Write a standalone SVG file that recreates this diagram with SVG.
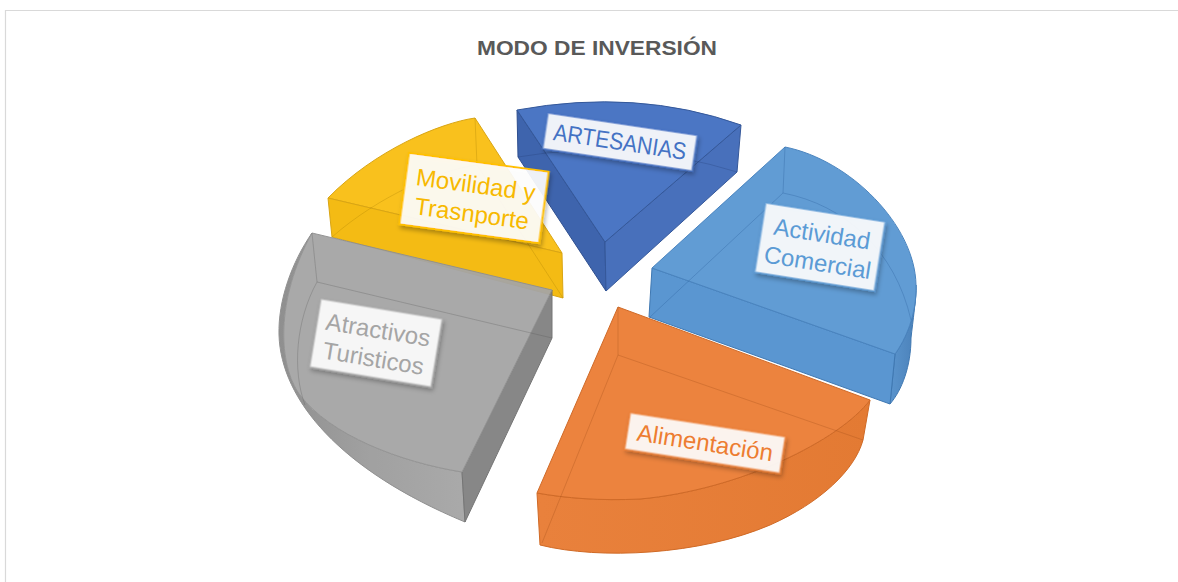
<svg xmlns="http://www.w3.org/2000/svg" width="1178" height="582" viewBox="0 0 1178 582">
<style>
.title{font-family:"Liberation Sans",Arial,sans-serif;font-weight:bold;font-size:20px;fill:#595959}
.lbl{font-family:"Liberation Sans",Arial,sans-serif;font-size:24px;text-anchor:middle}
.face{stroke-width:1;stroke-linejoin:round}
.hid{fill:none;stroke-width:0.8;stroke-opacity:0.35}
.box{fill:#ffffff;fill-opacity:0.9;stroke-width:2;filter:url(#sh)}
</style>
<defs>
<filter id="sh" x="-20%" y="-30%" width="150%" height="170%">
<feDropShadow dx="2" dy="3" stdDeviation="2" flood-color="#000" flood-opacity="0.3"/>
</filter>
<linearGradient id="gGrey" x1="280" y1="0" x2="470" y2="0" gradientUnits="userSpaceOnUse">
<stop offset="0" stop-color="#8a8a8a"/><stop offset="0.5" stop-color="#9d9d9d"/><stop offset="1" stop-color="#a6a6a6"/>
</linearGradient>
<linearGradient id="gBlue" x1="890" y1="0" x2="918" y2="0" gradientUnits="userSpaceOnUse">
<stop offset="0" stop-color="#5a94cd"/><stop offset="1" stop-color="#4a80b8"/>
</linearGradient>
<linearGradient id="gOr" x1="540" y1="0" x2="870" y2="0" gradientUnits="userSpaceOnUse">
<stop offset="0" stop-color="#e9813c"/><stop offset="1" stop-color="#e37a33"/>
</linearGradient>
</defs>
<rect x="0" y="0" width="1178" height="582" fill="#ffffff"/>
<path d="M5.5,582 L5.5,10.5 L1178,10.5" fill="none" stroke="#d9d9d9" stroke-width="1.2"/>
<text class="title" x="597" y="55" text-anchor="middle" textLength="240" lengthAdjust="spacingAndGlyphs">MODO DE INVERSIÓN</text>

<g id="slice-artesanias">
<path class="face" d="M517,110 L605,242 L606,291 L518,157 Z" fill="#3e64ad" stroke="#2f4f8f"/>
<path class="face" d="M741,125 L605,242 L606,291 L737,172 Z" fill="#4870bb" stroke="#35589a"/>
<path class="face" d="M517,110 Q637,88 741,125 L605,242 Z" fill="#4b76c4" stroke="#34589a"/>
<path class="hid" d="M518,157 Q628,138 737,172" stroke="#1f3a70"/>
</g>

<g id="slice-movilidad">
<path class="face" d="M475,118 C440,123 375,150 328,198 L562,253 Z" fill="#f9c11d" stroke="#d9a514"/>
<path class="face" d="M328,198 L562,253 L563,298 L332,237 Z" fill="#f4bb14" stroke="#d9a514"/>
<path class="hid" d="M475,118 L477,165 L563,298 M477,165 C440,170 380,195 332,237" stroke="#a07800"/>
</g>

<g id="slice-actividad">
<path class="face" d="M916,285 C917,315 905,340 895,354 L890,404 C902,390 911,366 911,338 C913,320 916,300 916,285 Z" fill="url(#gBlue)" stroke="#3f78b2"/>
<path class="face" d="M652,268 L895,354 L890,404 L649,317 Z" fill="#5a96d1" stroke="#3f78b2"/>
<path class="face" d="M785,147 C850,160 915,225 916,285 C917,315 905,340 895,354 L652,268 Z" fill="#619cd4" stroke="#4a84bf"/>
<path class="hid" d="M785,147 L783,193 L650,317 M783,193 C845,205 895,250 911,320" stroke="#1f5590"/>
</g>

<g id="slice-atractivos">
<g opacity="0.95">
<path class="face" d="M462,472 C400,462 330,435 300,395 C278,365 275,300 312,233 C292,262 278,300 279,335 C281,400 340,470 465,522 Z" fill="url(#gGrey)" stroke="#8a8a8a"/>
<path class="face" d="M552,290 L552,338 L465,522 L462,472 Z" fill="#818181" stroke="#6e6e6e"/>
<path class="face" d="M312,233 L552,290 L462,472 C400,462 330,435 300,395 C278,365 275,300 312,233 Z" fill="#a5a5a5" stroke="#909090"/>
</g>
<path class="hid" d="M312,233 L317,282 L552,338 M317,282 C296,320 292,370 305,405" stroke="#555"/>
</g>

<g id="slice-alimentacion">
<path class="face" d="M870,400 C840,440 740,490 640,499 C600,501 565,498 537,493 L540,545 C600,560 700,555 770,525 C820,503 855,470 863,440 Z" fill="url(#gOr)" stroke="#d06a26"/>
<path class="face" d="M618,307 L870,400 C840,440 740,490 640,499 C600,501 565,498 537,493 Z" fill="#ec833e" stroke="#cf6a28"/>
<path class="hid" d="M618,307 L618,355 L863,440 M618,355 L542,543" stroke="#9a4a15"/>
</g>

<g id="labels">
<g id="label-artesanias" transform="translate(620,142) rotate(8.5)">
<rect class="box" x="-75.5" y="-18" width="151" height="36" stroke="#4472c4" stroke-opacity="0.6"/>
<text class="lbl" x="0" y="8" fill="#4472c4" textLength="134" lengthAdjust="spacingAndGlyphs">ARTESANIAS</text>
</g>
<g id="label-movilidad" transform="translate(474,198) rotate(7.7)">
<rect class="box" x="-70.5" y="-36" width="141" height="72" stroke="#ffc000"/>
<text class="lbl" x="0" y="-5" fill="#f7b900">Movilidad y</text>
<text class="lbl" x="0" y="24" fill="#f7b900">Trasnporte</text>
</g>
<g id="label-actividad" transform="translate(820,247) rotate(9)">
<rect class="box" x="-60.5" y="-35" width="121" height="70" stroke="#5b9bd5" stroke-opacity="0.6"/>
<text class="lbl" x="0" y="-5" fill="#5b9bd5">Actividad</text>
<text class="lbl" x="0" y="24" fill="#5b9bd5">Comercial</text>
</g>
<g id="label-alimentacion" transform="translate(705,443) rotate(8.8)">
<rect class="box" x="-78.5" y="-18.5" width="157" height="37" stroke="#ed7d31" stroke-opacity="0.6"/>
<text class="lbl" x="0" y="8" fill="#ed7d31">Alimentación</text>
</g>
<g id="label-atractivos" transform="translate(376,343) rotate(9.4)">
<rect class="box" x="-61.5" y="-34.5" width="123" height="69" stroke="#a5a5a5" stroke-opacity="0.5"/>
<text class="lbl" x="0" y="-5" fill="#a5a5a5">Atractivos</text>
<text class="lbl" x="0" y="24" fill="#a5a5a5">Turisticos</text>
</g>
</g>
</svg>
